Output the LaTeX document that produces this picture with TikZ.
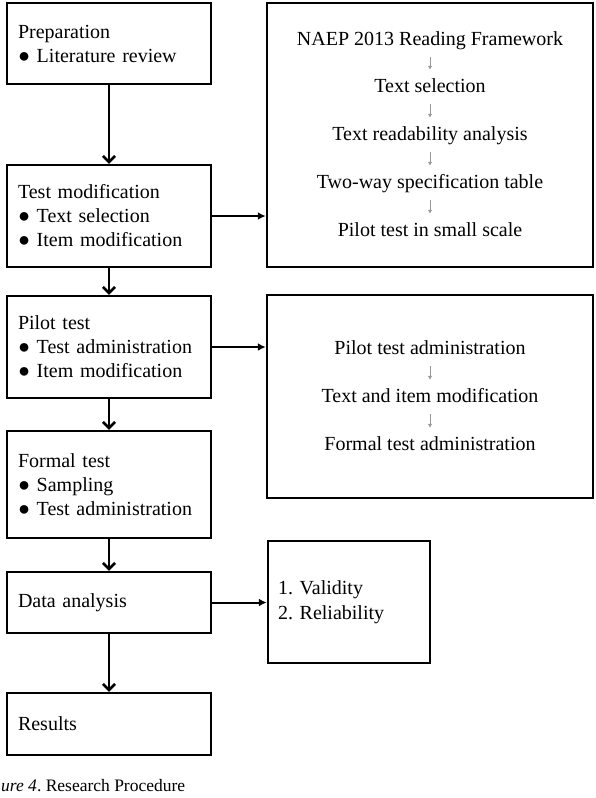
\documentclass[tikz,border=0pt]{standalone}
\usepackage{fontspec}
\setmainfont{Liberation Serif}
\usetikzlibrary{arrows.meta}
\frenchspacing
\begin{document}
\begin{tikzpicture}[x=1pt,y=-1pt,
  lbox/.style={draw, line width=2.5pt, minimum width=204pt, text width=182pt, inner xsep=11pt, align=left, font=\fontsize{20}{24}\selectfont},
  rbox/.style={draw, line width=2.5pt},
  rtext/.style={inner sep=0pt, text height=14pt, text depth=4pt, font=\fontsize{20}{24}\selectfont},
  varr/.style={line width=2.5pt, -{Straight Barb[length=6pt,width=12pt,line width=2.5pt]}},
  harr/.style={line width=2pt, -{Latex[length=8pt,width=8pt]}},
  sarr/.style={draw=gray!80, line width=0.9pt, -{Latex[length=4pt,width=4.5pt]}, shorten <=8pt, shorten >=8pt}
]
\useasboundingbox (0,0) rectangle (596,798);

% left column
\node[lbox, minimum height=81pt] (prep) at (109,43.5) {Preparation\\● Literature review};
\node[lbox, minimum height=102pt] (tmod) at (109,216) {Test modification\\● Text selection\\● Item modification};
\node[lbox, minimum height=102pt] (pilot) at (109,347) {Pilot test\\● Test administration\\● Item modification};
\node[lbox, minimum height=107pt] (formal) at (109,484.5) {Formal test\\● Sampling\\● Test administration};
\node[lbox, minimum height=61pt] (data) at (109,602.5) {Data analysis};
\node[lbox, minimum height=62pt] (res) at (109,724) {Results};

% right boxes
\node[rbox, minimum width=326pt, minimum height=264pt] (r1) at (430,135) {};
\node[rbox, minimum width=326pt, minimum height=203pt] (r2) at (430,396.5) {};
\node[rbox, minimum width=162pt, minimum height=122pt, text width=142pt, inner xsep=10pt, align=left, font=\fontsize{20}{25}\selectfont] (r3) at (349,602) {1. Validity\\2. Reliability};

% right box 1 texts
\node[rtext] (a1) at (430,40) {NAEP 2013 Reading Framework};
\node[rtext] (a2) at (430,87) {Text selection};
\node[rtext] (a3) at (430,135) {Text readability analysis};
\node[rtext] (a4) at (430,183) {Two-way specification table};
\node[rtext] (a5) at (430,231) {Pilot test in small scale};
\draw[sarr] (a1) -- (a2);
\draw[sarr] (a2) -- (a3);
\draw[sarr] (a3) -- (a4);
\draw[sarr] (a4) -- (a5);

% right box 2 texts
\node[rtext] (b1) at (430,349) {Pilot test administration};
\node[rtext] (b2) at (430,397) {Text and item modification};
\node[rtext] (b3) at (430,445) {Formal test administration};
\draw[sarr] (b1) -- (b2);
\draw[sarr] (b2) -- (b3);

% main arrows
\draw[varr] (prep) -- (tmod);
\draw[varr] (tmod) -- (pilot);
\draw[varr] (pilot) -- (formal);
\draw[varr] (formal) -- (data);
\draw[varr] (data) -- (res);
\draw[harr] (tmod.east) -- (tmod.east -| r1.west);
\draw[harr] (pilot.east) -- (pilot.east -| r2.west);
\draw[harr] (data.east) -- (data.east -| r3.west);

% caption
\node[anchor=base west, inner sep=0pt, font=\fontsize{17.5}{20}\selectfont] (cap) at (1,791) {\textit{ure 4}. Research Procedure};
\end{tikzpicture}
\end{document}
